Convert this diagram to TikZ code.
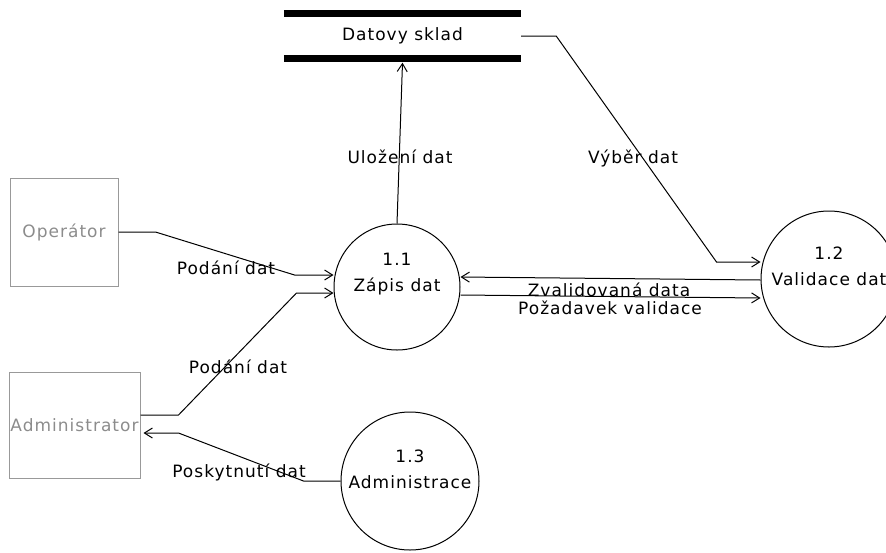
\documentclass[tikz,border=0pt]{standalone}
\usepackage{fontspec}
\setmainfont{DejaVu Sans}[LetterSpace=6]
\usetikzlibrary{arrows.meta}
\definecolor{boxgray}{rgb}{0.6,0.6,0.6}
\definecolor{textgray}{rgb}{0.55,0.55,0.55}

\begin{document}
\begin{tikzpicture}[x=1pt,y=-1pt,
    every node/.style={font=\fontsize{17}{26}\selectfont},
    ext/.style={draw=boxgray,line width=1pt,text=textgray,minimum width=108pt,minimum height=108pt,inner sep=1pt},
    proc/.style={draw,circle,line width=1pt,inner sep=0pt},
    flow/.style={line width=1pt,-{Straight Barb[length=8pt,width=10pt]}},
    bar/.style={line width=7.5pt}]
        \useasboundingbox (0,0) rectangle (886,552);

        % terminators
        \node[ext] (op) at (64,232) {Operátor};
        \node[ext,minimum width=131pt,minimum height=106pt] (adm) at (74.5,425) {Administrator};

        % data store
        \node[minimum width=237pt,minimum height=45pt,inner sep=0pt] (store) at (402.5,36) {Datovy sklad};
        \draw[bar] (store.north west) -- (store.north east);
        \draw[bar] (store.south west) -- (store.south east);

        % processes
        \node[proc,minimum size=126pt] (p11) at (397,287) {};
        \node[proc,minimum size=136pt] (p12) at (829,279) {};
        \node[proc,minimum size=138pt] (p13) at (410,481) {};
        \node[align=center] (t11) at ([yshift=13pt]p11.center) {1.1\\Zápis dat};
        \node[align=center] (t12) at ([yshift=13pt]p12.center) {1.2\\Validace dat};
        \node[align=center] (t13) at ([yshift=12pt]p13.center) {1.3\\Administrace};

        % flows
        \draw[flow] (p11.north) -- ([yshift=-4pt]store.south);
        \draw[flow] (store.east) -- ++(35,0) -- ([xshift=-44pt,yshift=17pt]p12.west) -- ([yshift=17pt]p12.west);
        \draw[flow] (op.east) -- ++(37,0) -- ([xshift=-39pt,yshift=12pt]p11.west) -- ([yshift=12pt]p11.west);
        \draw[flow] ([yshift=10pt]adm.east) -- ++(38,0) -- ([xshift=-37pt,yshift=-6pt]p11.west) -- ([yshift=-6pt]p11.west);
        \draw[flow] ([yshift=-1pt]p12.west) -- ([yshift=10pt]p11.east);
        \draw[flow] ([yshift=-8pt]p11.east) -- ([yshift=-19pt]p12.west);
        \draw[flow] (p13.west) -- ++(-37,0) -- ([xshift=38pt,yshift=-8pt]adm.east) -- ([xshift=3pt,yshift=-8pt]adm.east);

        % flow labels
        \node (l1) at (400,157) {Uložení dat};
        \node (l2) at (633,158) {Výběr dat};
        \node (l3) at (226,268) {Podání dat};
        \node (l4) at (238,367) {Podání dat};
        \node (l5) at (609,290) {Zvalidovaná data};
        \node (l6) at (610,308) {Požadavek validace};
        \node (l7) at (239,472) {Poskytnutí dat};
\end{tikzpicture}
\end{document}
